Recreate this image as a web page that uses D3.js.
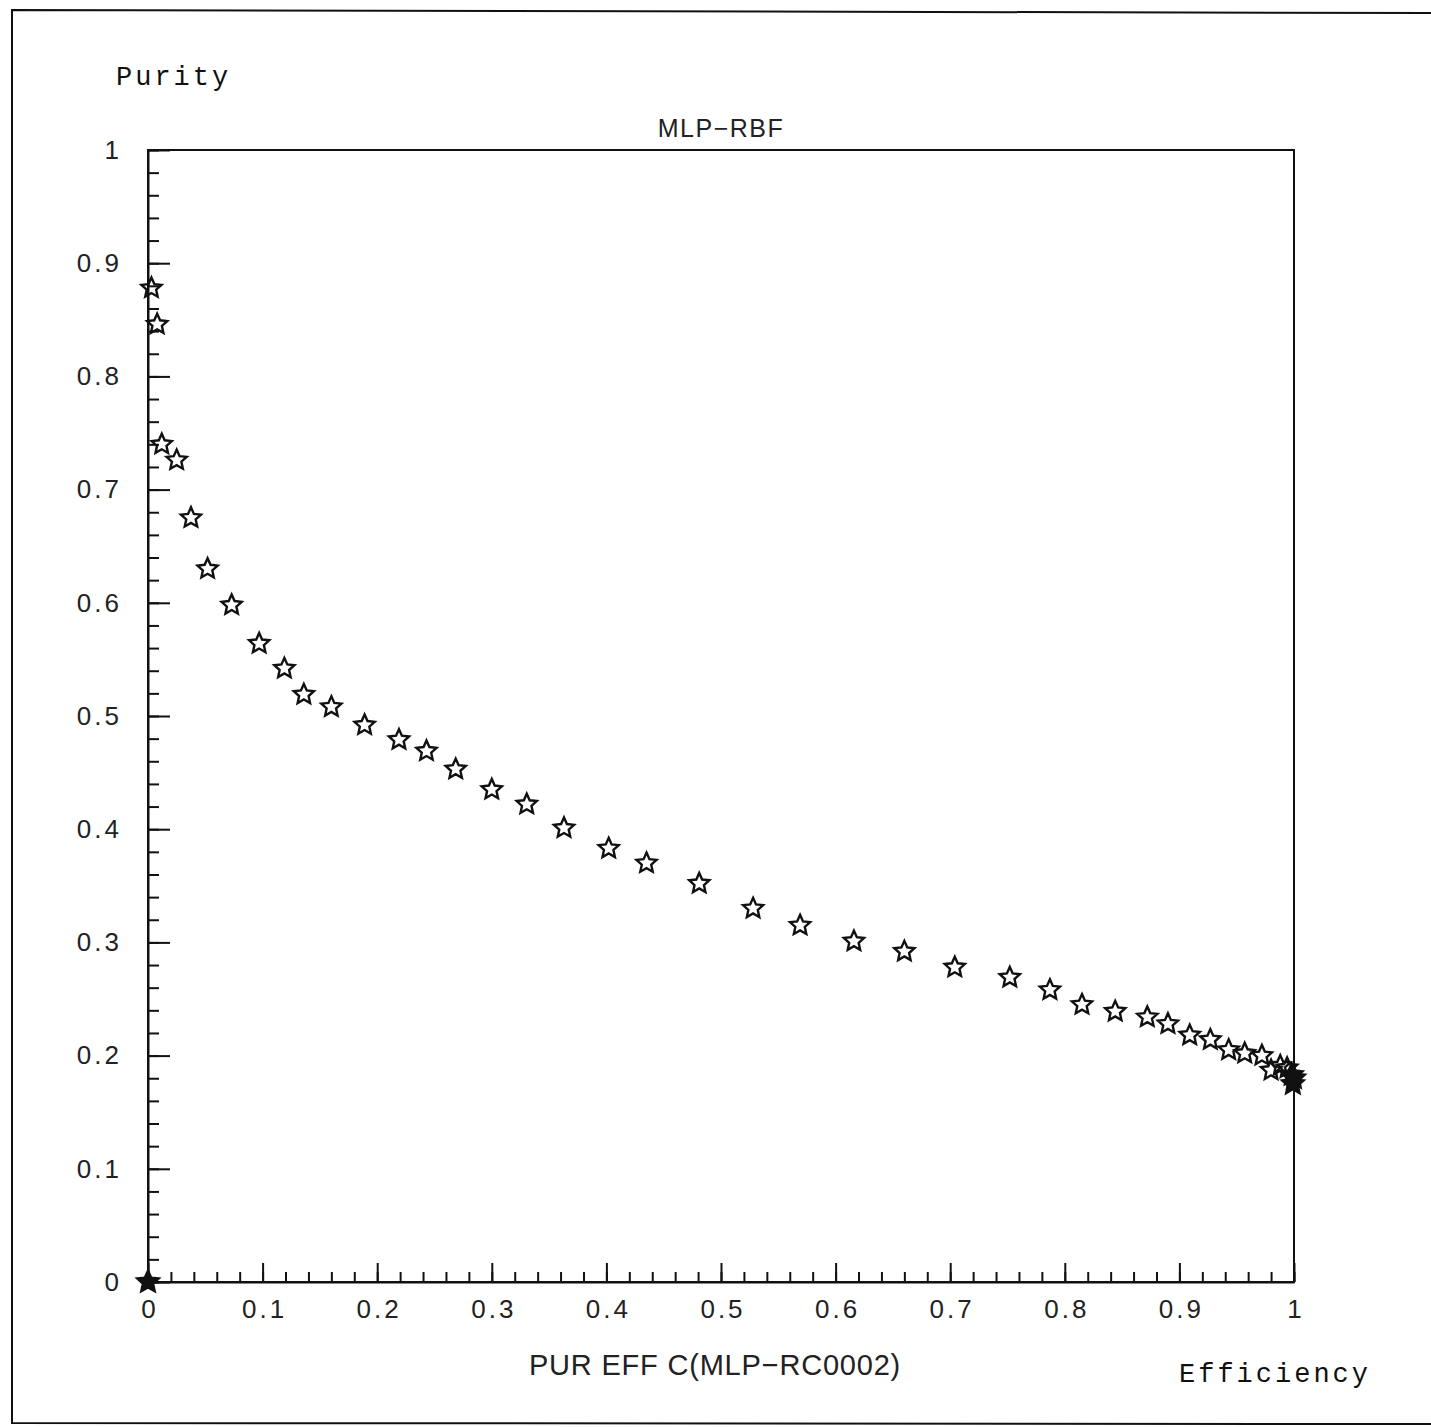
<!DOCTYPE html>
<html>
<head>
<meta charset="UTF-8">
<title>MLP-RBF purity vs efficiency</title>
<script src="https://cdn.jsdelivr.net/npm/d3@7"></script>
<style>
  body { margin: 0; background: #fff; }
  .tick text { font-family: "Liberation Sans", Arial, sans-serif; font-size: 26px; fill: #222; letter-spacing: 3px; }
  .mono { font-family: "Liberation Mono", "DejaVu Sans Mono", monospace; font-size: 27px; letter-spacing: 3px; fill: #111; }
  .sans { font-family: "Liberation Sans", Arial, sans-serif; fill: #222; }
</style>
</head>
<body>
<svg width="1431" height="1427"></svg>
<script>
// efficiency (x) and purity (y)
var effValues = [0.003, 0.008, 0.012, 0.025, 0.0375, 0.052, 0.073, 0.097, 0.119, 0.136,
                 0.160, 0.189, 0.219, 0.243, 0.2685, 0.300, 0.3305, 0.363, 0.402, 0.435,
                 0.481, 0.528, 0.569, 0.616, 0.660, 0.704, 0.752, 0.787, 0.815, 0.844,
                 0.872, 0.890, 0.909, 0.927, 0.943, 0.957, 0.972, 0.980, 0.988, 0.994];
var purValues = [0.878, 0.846, 0.740, 0.726, 0.675, 0.630, 0.598, 0.564, 0.542, 0.519,
                 0.508, 0.492, 0.479, 0.469, 0.453, 0.435, 0.422, 0.401, 0.383, 0.370,
                 0.352, 0.330, 0.315, 0.301, 0.292, 0.278, 0.269, 0.258, 0.245, 0.239,
                 0.234, 0.228, 0.218, 0.214, 0.205, 0.202, 0.200, 0.187, 0.191, 0.189];
// points piled on top of each other (look solid in the print)
var pileEff = [0.0, 0.998, 1.0, 0.999];
var pilePur = [0.0, 0.183, 0.180, 0.175];

var xTicks = [0, 0.1, 0.2, 0.3, 0.4, 0.5, 0.6, 0.7, 0.8, 0.9, 1];
var yTicks = [0, 0.1, 0.2, 0.3, 0.4, 0.5, 0.6, 0.7, 0.8, 0.9, 1];

var svg = d3.select("svg");

var x = d3.scaleLinear().domain([0, 1]).range([148, 1294]);
var y = d3.scaleLinear().domain([0, 1]).range([1282, 150]);
var fmt = d3.format("~g");
var minor = d3.range(0, 51).map(function(i) { return i / 50; });

// page frame (left, top, bottom edges of the scanned sheet)
svg.append("path")
  .attr("d", "M1431,13 L12,10 L12,1423 L1431,1424")
  .attr("fill", "none").attr("stroke", "#111").attr("stroke-width", 2);

// plot box
svg.append("rect")
  .attr("x", x(0)).attr("y", y(1))
  .attr("width", x(1) - x(0)).attr("height", y(0) - y(1))
  .attr("fill", "none").attr("stroke", "#111").attr("stroke-width", 2);

// minor ticks
svg.append("g").attr("transform", "translate(0," + y(0) + ")")
  .call(d3.axisBottom(x).tickValues(minor).tickSize(-10).tickFormat(""))
  .call(function(g) { g.select(".domain").remove(); });
svg.append("g").attr("transform", "translate(" + x(0) + ",0)")
  .call(d3.axisLeft(y).tickValues(minor).tickSize(-11).tickFormat(""))
  .call(function(g) { g.select(".domain").remove(); });

// major ticks + labels
svg.append("g").attr("transform", "translate(0," + y(0) + ")")
  .call(d3.axisBottom(x).tickValues(xTicks).tickSize(-19).tickSizeOuter(0).tickPadding(18).tickFormat(fmt))
  .selectAll("text").attr("dx", "1.5px");
svg.append("g").attr("transform", "translate(" + x(0) + ",0)")
  .call(d3.axisLeft(y).tickValues(yTicks).tickSize(-22).tickSizeOuter(0).tickPadding(26).tickFormat(fmt));

svg.selectAll(".tick line").attr("stroke", "#111").attr("stroke-width", 2);
svg.selectAll(".domain").attr("stroke", "#111").attr("stroke-width", 2);

// star marker
var star = {
  draw: function(ctx, size) {
    var R = Math.sqrt(size), r = R * 0.47;
    for (var i = 0; i < 10; i++) {
      var rad = i % 2 ? r : R;
      var a = -Math.PI / 2 + i * Math.PI / 5;
      if (i === 0) ctx.moveTo(rad * Math.cos(a), rad * Math.sin(a));
      else ctx.lineTo(rad * Math.cos(a), rad * Math.sin(a));
    }
    ctx.closePath();
  }
};

var points = effValues.map(function(e, i) { return {e: e, p: purValues[i]}; });
var piles = pileEff.map(function(e, i) { return {e: e, p: pilePur[i]}; });

svg.append("g").selectAll("path")
  .data(points).enter().append("path")
  .attr("d", d3.symbol().type(star).size(112))
  .attr("transform", function(d) { return "translate(" + x(d.e) + "," + y(d.p) + ")"; })
  .attr("fill", "none").attr("stroke", "#111").attr("stroke-width", 2.4);

svg.append("g").selectAll("path")
  .data(piles).enter().append("path")
  .attr("d", d3.symbol().type(star).size(140))
  .attr("transform", function(d) { return "translate(" + x(d.e) + "," + y(d.p) + ")"; })
  .attr("fill", "#111").attr("stroke", "#111").attr("stroke-width", 2);

// titles
svg.append("text").attr("class", "sans").attr("x", 721).attr("y", 137)
  .attr("text-anchor", "middle").attr("font-size", 25).style("letter-spacing", "1.5px")
  .text("MLP\u2212RBF");
svg.append("text").attr("class", "sans").attr("x", 715).attr("y", 1375)
  .attr("text-anchor", "middle").attr("font-size", 29).style("letter-spacing", "0.8px")
  .text("PUR EFF C(MLP\u2212RC0002)");
svg.append("text").attr("class", "mono").attr("x", 116).attr("y", 85).text("Purity");
svg.append("text").attr("class", "mono").attr("x", 1179).attr("y", 1382).text("Efficiency");
</script>
</body>
</html>
